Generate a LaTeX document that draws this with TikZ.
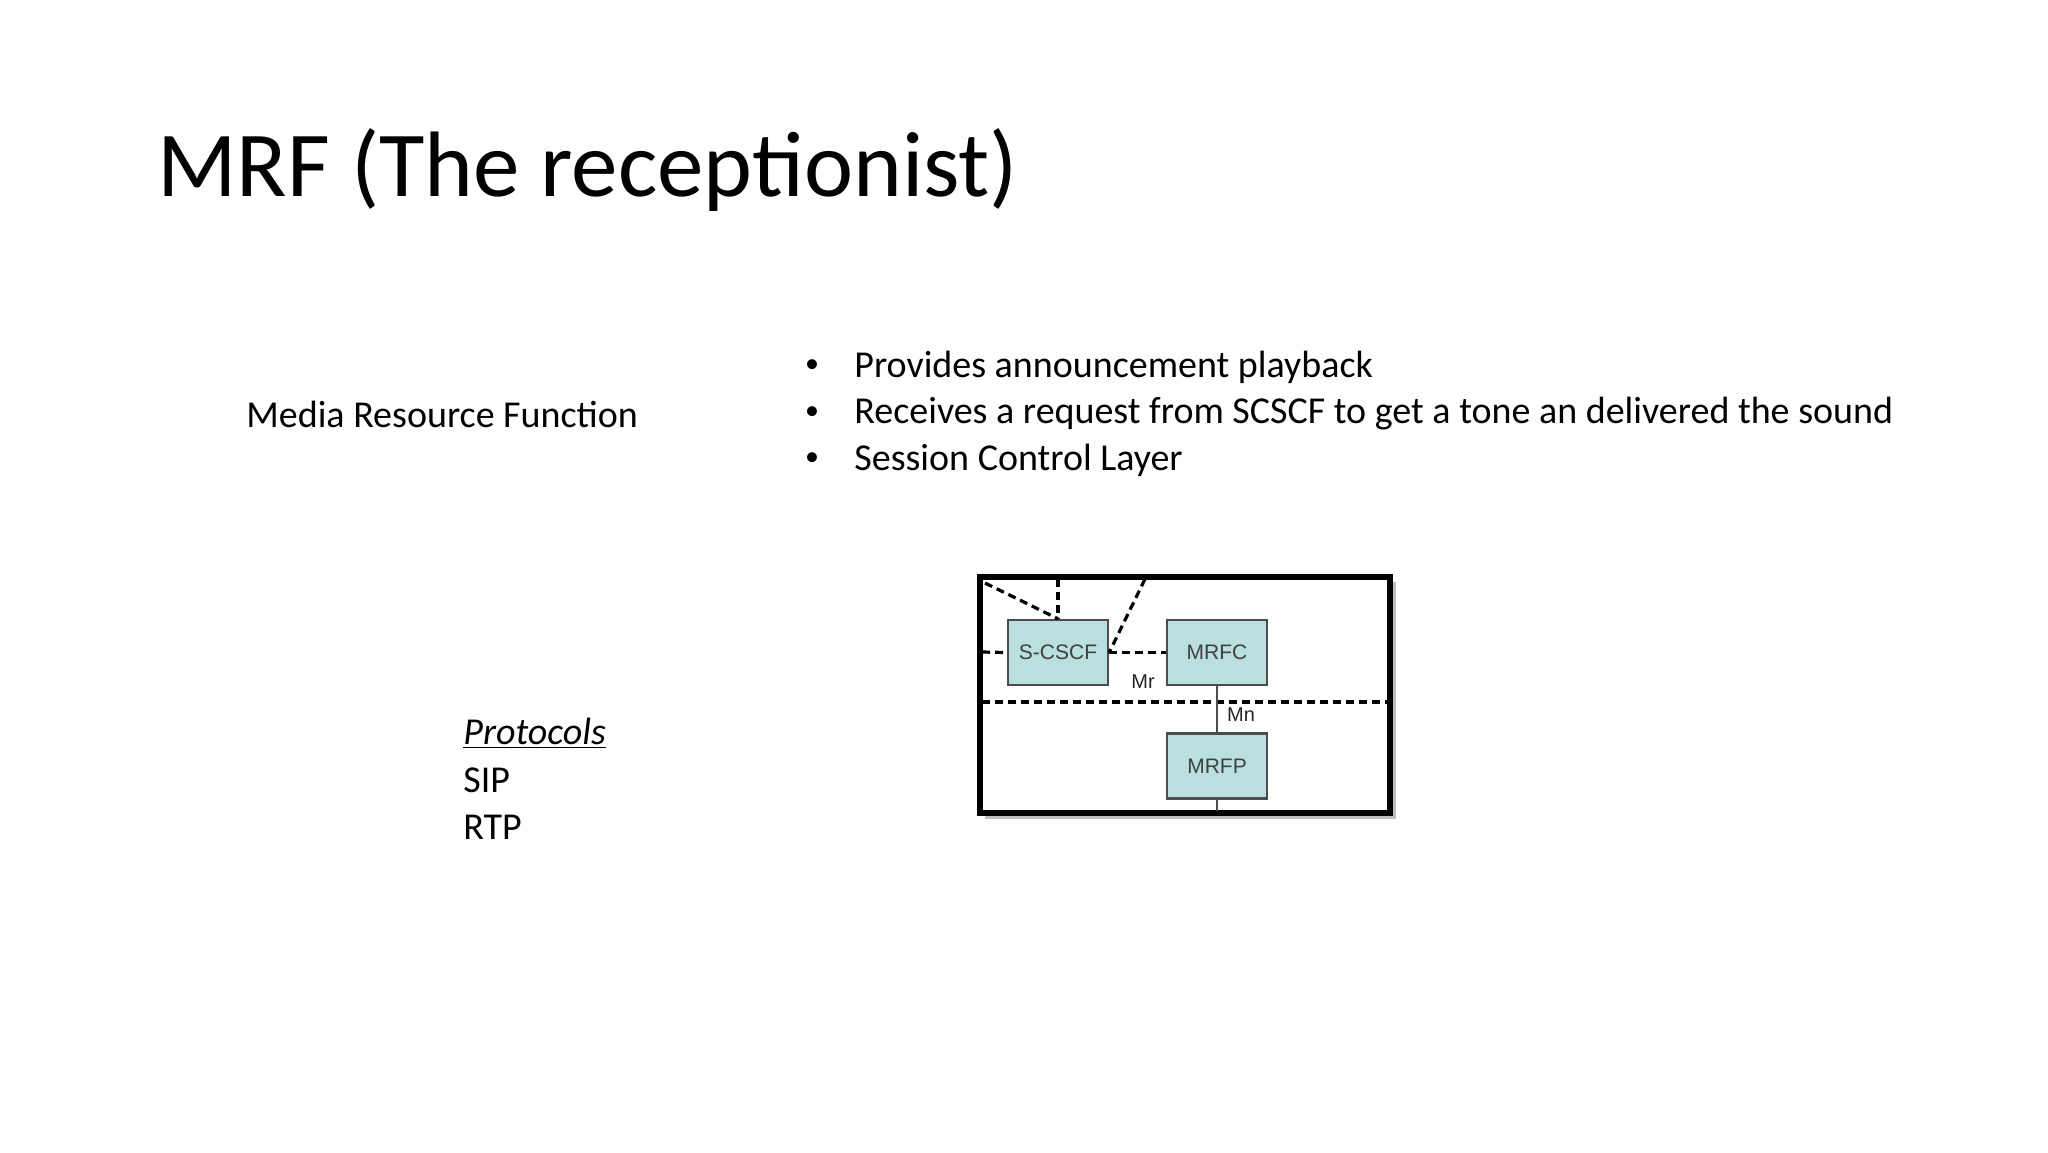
\documentclass[tikz,border=0pt]{standalone}
\usepackage{fontspec}
\setmainfont{Carlito}
\setsansfont{Liberation Sans}
\definecolor{boxfill}{HTML}{B9E0DF}
\begin{document}
\begin{tikzpicture}[x=0.5pt,y=-0.5pt,
  txt/.style={anchor=west,inner sep=0pt,font=\fontsize{19}{23}\selectfont},
  unit/.style={draw=black!70,line width=1.2pt,fill=boxfill,minimum width=50pt,minimum height=32.5pt,inner sep=0pt,font=\sffamily\fontsize{10.5}{12}\selectfont,text=black!75},
  dsh/.style={line width=1.6pt,dash pattern=on 4pt off 2.5pt},
  lbl/.style={inner sep=0pt,font=\sffamily\fontsize{10}{11}\selectfont,text=black!85}]
\useasboundingbox (0,0) rectangle (2048,1152);
\node[anchor=west,inner sep=0pt,font=\fontsize{46.5}{56}\selectfont] (title) at (157,170) {MRF (The receptionist)};
\node[txt] (mrf) at (246,414) {Media Resource Function};
\node[txt] (b1) at (854,367) {Provides announcement playback};
\node[txt] (b2) at (854,414) {Receives a request from SCSCF to get a tone an delivered the sound};
\node[txt] (b3) at (854,460) {Session Control Layer};
\foreach \y in {367,414,460} \node[inner sep=0pt,font=\fontsize{14}{16}\selectfont] at (812,\y-1) {•};
\node[txt] (p) at (463,733) {\underline{\textit{Protocols}}};
\node[txt] (sip) at (463,780) {SIP};
\node[txt] (rtp) at (463,827) {RTP};
% frame
\fill[black!25] (985,582) rectangle (1396,819);
\draw[line width=3pt,fill=white] (980,577) rectangle (1390,813);
\coordinate (fl) at (982,652);
\coordinate (tl) at (985,583);
\coordinate (tv) at (1058,579);
\coordinate (td) at (1145,579);
\coordinate (ml) at (982,702);
\coordinate (mr) at (1388,702);
\coordinate (fb) at (1217,811);
\node[unit] (s) at (1058,652.5) {S-CSCF};
\node[unit] (c) at (1217,652.5) {MRFC};
\node[unit] (p2) at (1217,766) {MRFP};
\draw[dsh] (fl) -- (s.west);
\draw[dsh] (s.east) -- (c.west);
\draw[dsh] (tl) -- (s.north);
\draw[dsh] (tv) -- (s.north);
\draw[dsh] (td) -- (s.east);
\draw[dsh] (ml) -- (mr);
\draw[black!70,line width=1.2pt] (c.south) -- (p2.north);
\draw[black!70,line width=1.2pt] (p2.south) -- (fb);
\node[lbl] (mrl) at (1143,682) {Mr};
\node[lbl] (mnl) at (1241,715) {Mn};
\end{tikzpicture}
\end{document}
